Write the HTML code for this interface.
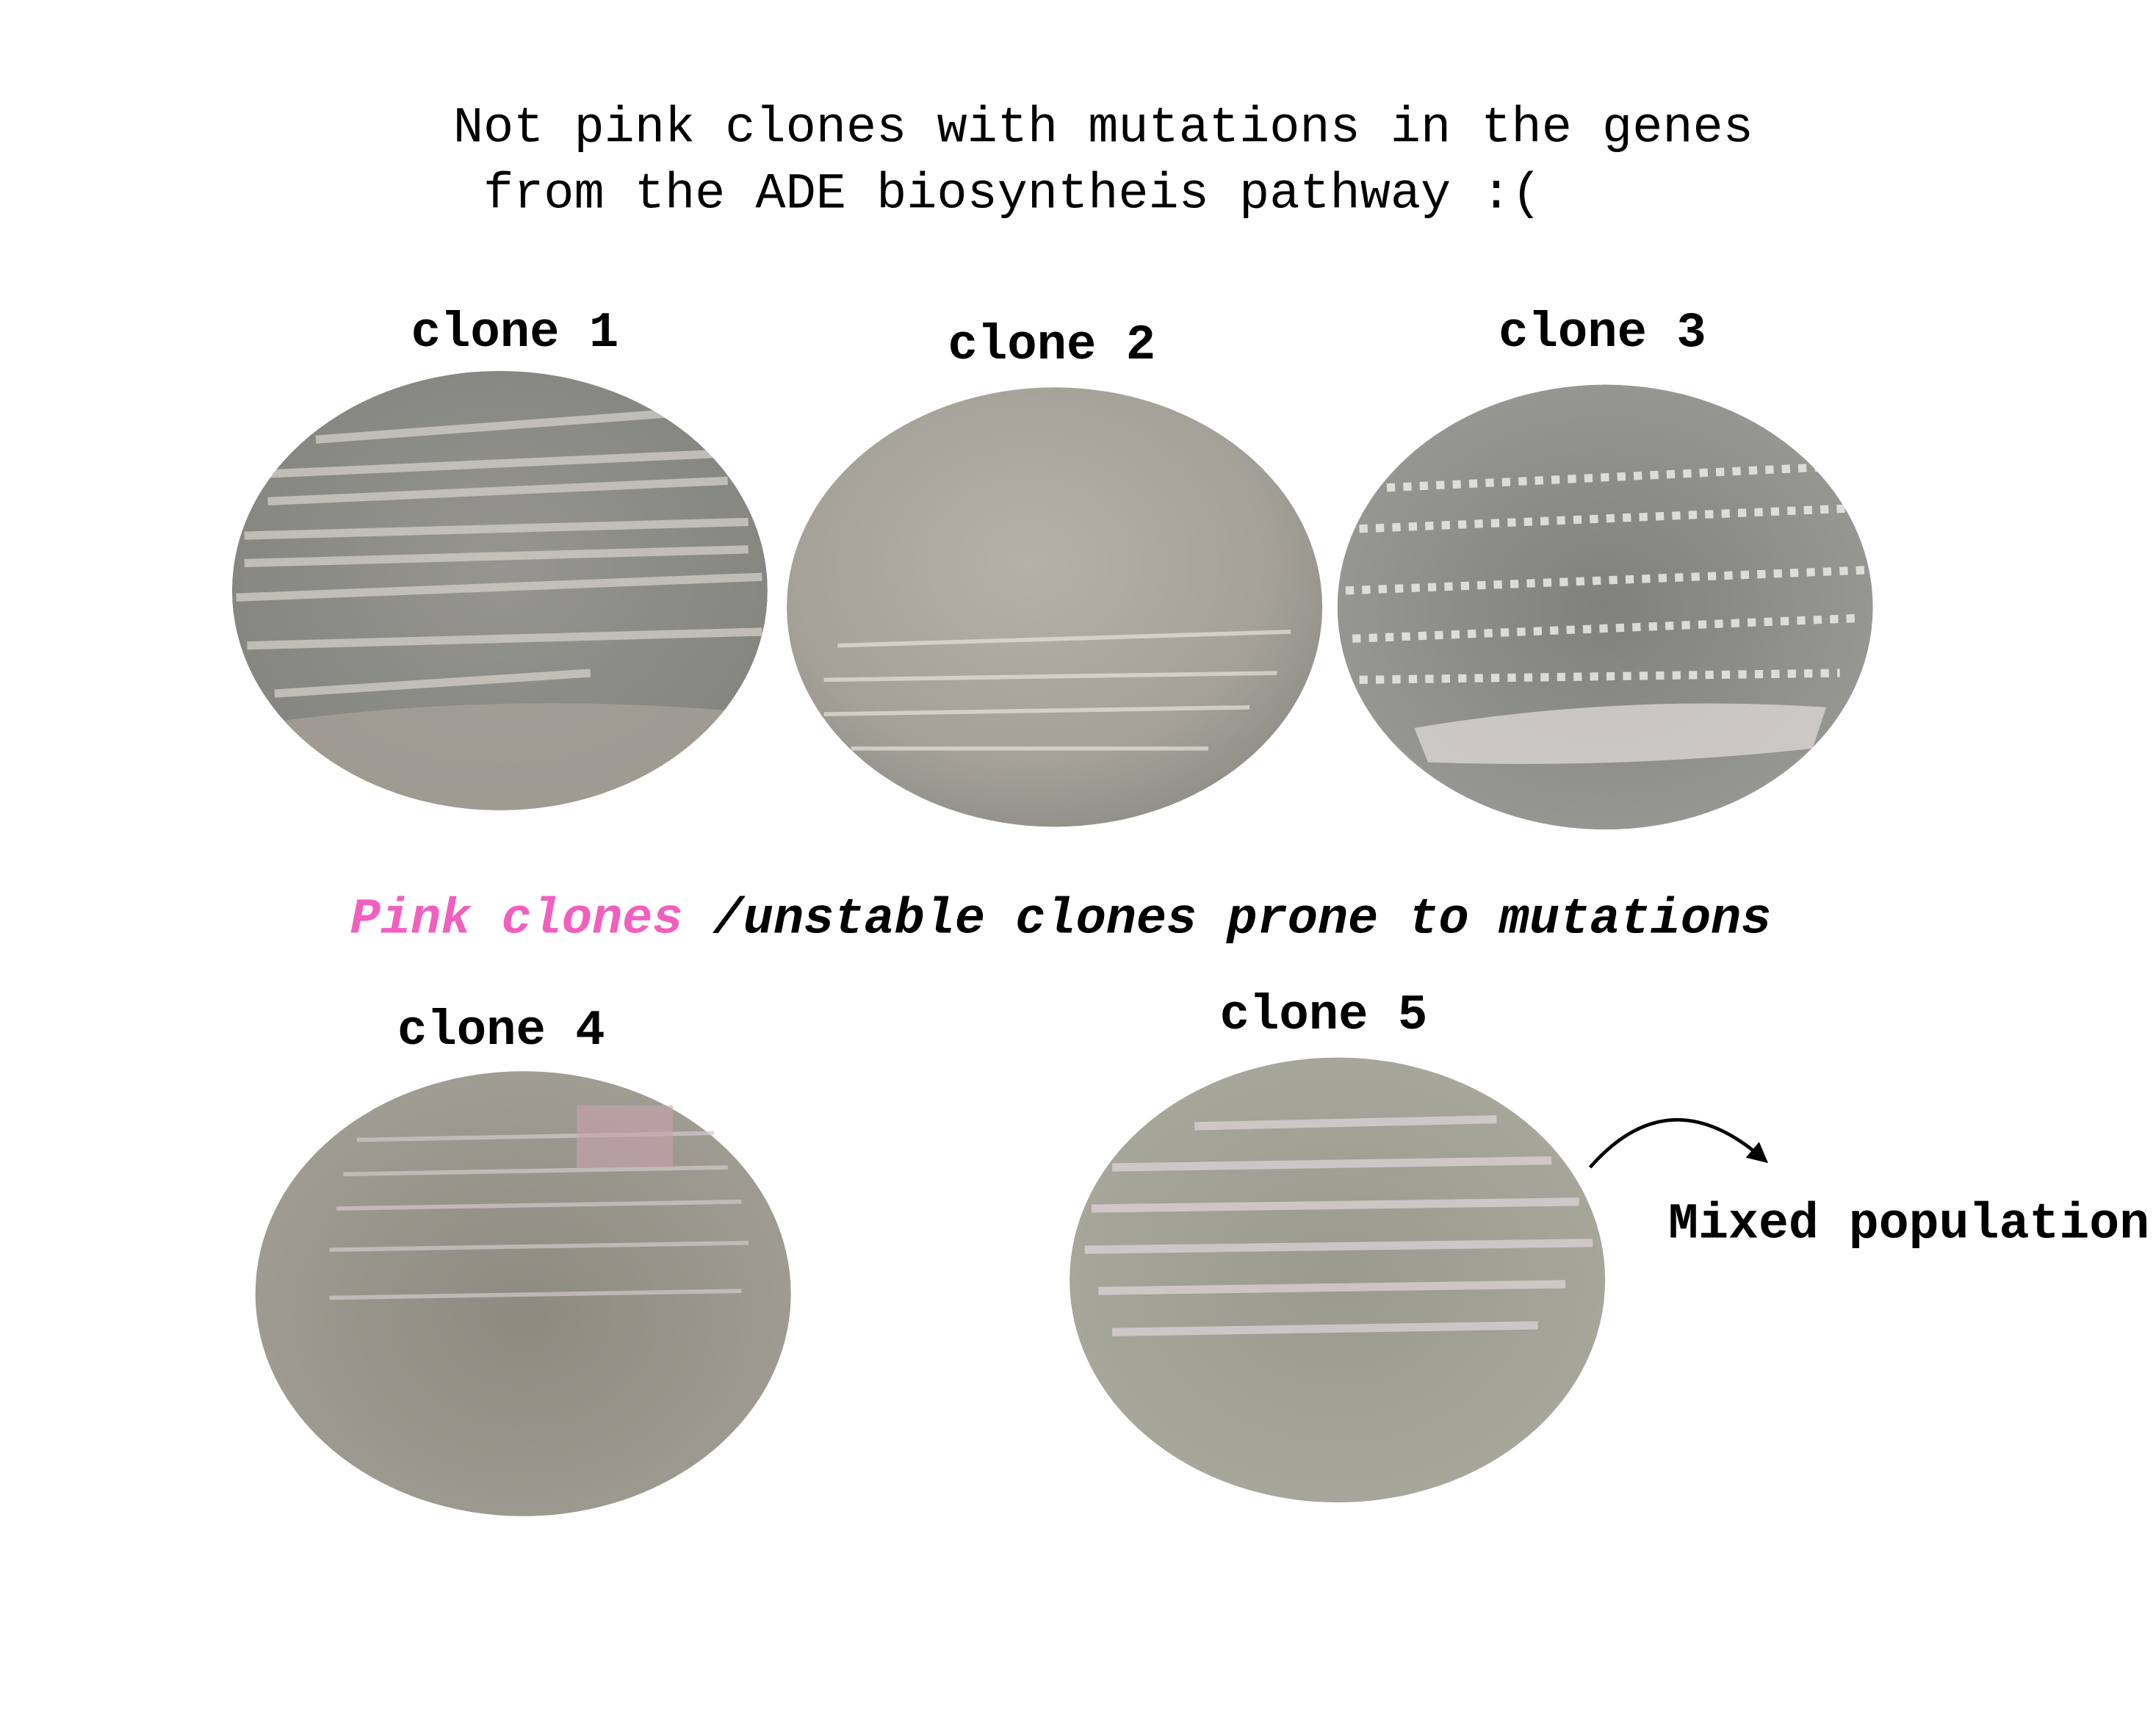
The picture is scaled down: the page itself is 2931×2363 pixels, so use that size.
<!DOCTYPE html>
<html><head><meta charset="utf-8">
<style>
html,body{margin:0;padding:0;background:#fff;}
svg{display:block;}
text{font-family:"Liberation Mono","DejaVu Sans Mono",monospace;}
</style></head>
<body>
<svg width="2931" height="2363" viewBox="0 0 1568 1264" xmlns="http://www.w3.org/2000/svg">
<defs>
  <radialGradient id="g1" cx="50%" cy="45%" r="60%">
    <stop offset="0" stop-color="#96958f"/><stop offset="1" stop-color="#83847f"/>
  </radialGradient>
  <radialGradient id="g2" cx="45%" cy="40%" r="65%">
    <stop offset="0" stop-color="#b4b2a8"/><stop offset="0.7" stop-color="#a3a198"/><stop offset="1" stop-color="#8e8d86"/>
  </radialGradient>
  <radialGradient id="g3" cx="50%" cy="50%" r="60%">
    <stop offset="0" stop-color="#80817c"/><stop offset="1" stop-color="#9a9b96"/>
  </radialGradient>
  <radialGradient id="g4" cx="50%" cy="55%" r="60%">
    <stop offset="0" stop-color="#8d8b80"/><stop offset="1" stop-color="#a19f95"/>
  </radialGradient>
  <radialGradient id="g5" cx="50%" cy="50%" r="60%">
    <stop offset="0" stop-color="#9a9a8e"/><stop offset="1" stop-color="#a8a89c"/>
  </radialGradient>
  <clipPath id="c1"><ellipse cx="364" cy="430" rx="195" ry="160"/></clipPath>
  <clipPath id="c3"><ellipse cx="1169" cy="442" rx="195" ry="162"/></clipPath>
  <marker id="ah" viewBox="0 0 10 10" refX="5" refY="5" markerWidth="6" markerHeight="6" orient="auto">
    <path d="M0,0 L10,5 L0,10 z" fill="#000"/>
  </marker>
</defs>

<text x="330" y="103" font-size="36.7">Not pink clones with mutations in the genes</text>
<text x="352" y="151" font-size="36.7">from the ADE biosyntheis pathway :(</text>

<text x="375" y="252" font-size="36" font-weight="bold" text-anchor="middle">clone 1</text>
<text x="766" y="261" font-size="36" font-weight="bold" text-anchor="middle">clone 2</text>
<text x="1167" y="252" font-size="36" font-weight="bold" text-anchor="middle">clone 3</text>

<g clip-path="url(#c1)">
  <ellipse cx="364" cy="430" rx="195" ry="160" fill="url(#g1)"/>
  <g stroke="#d8d4cc" stroke-width="6" opacity="0.7">
    <line x1="230" y1="320" x2="500" y2="300"/><line x1="195" y1="345" x2="530" y2="330"/>
    <line x1="195" y1="365" x2="530" y2="350"/><line x1="178" y1="390" x2="545" y2="380"/>
    <line x1="178" y1="410" x2="545" y2="400"/><line x1="172" y1="435" x2="555" y2="420"/>
    <line x1="180" y1="470" x2="555" y2="460"/><line x1="200" y1="505" x2="430" y2="490"/>
  </g>
  <path d="M170,530 Q360,500 560,520 L560,600 L170,600z" fill="#a9a49b" opacity="0.7"/>
</g>
<g>
  <ellipse cx="768" cy="442" rx="195" ry="160" fill="url(#g2)"/>
  <g stroke="#e6e3da" stroke-width="3" opacity="0.7">
    <line x1="610" y1="470" x2="940" y2="460"/><line x1="600" y1="495" x2="930" y2="490"/>
    <line x1="600" y1="520" x2="910" y2="515"/><line x1="620" y1="545" x2="880" y2="545"/>
  </g>
</g>
<g clip-path="url(#c3)">
  <ellipse cx="1169" cy="442" rx="195" ry="162" fill="url(#g3)"/>
  <g stroke="#eeeae6" stroke-width="6" stroke-dasharray="6 6" opacity="0.85">
    <line x1="1010" y1="355" x2="1330" y2="340"/><line x1="990" y1="385" x2="1350" y2="370"/>
    <line x1="980" y1="430" x2="1360" y2="415"/><line x1="985" y1="465" x2="1355" y2="450"/>
    <line x1="990" y1="495" x2="1340" y2="490"/>
  </g>
  <path d="M1030,530 Q1180,505 1330,515 L1320,545 Q1180,560 1040,555z" fill="#d9d6d2" opacity="0.8"/>
</g>

<text x="255" y="679" font-size="36.7" font-weight="bold" font-style="italic"><tspan fill="#f25fbf">Pink clones</tspan> /unstable clones prone to mutations</text>

<text x="365" y="760" font-size="36" font-weight="bold" text-anchor="middle">clone 4</text>
<text x="964" y="749" font-size="36" font-weight="bold" text-anchor="middle">clone 5</text>

<g>
  <ellipse cx="381" cy="942" rx="195" ry="162" fill="url(#g4)"/>
  <g stroke="#d6c8cc" stroke-width="3" opacity="0.7">
    <line x1="260" y1="830" x2="520" y2="825"/><line x1="250" y1="855" x2="530" y2="850"/>
    <line x1="245" y1="880" x2="540" y2="875"/><line x1="240" y1="910" x2="545" y2="905"/>
    <line x1="240" y1="945" x2="540" y2="940"/>
  </g>
  <rect x="420" y="805" width="70" height="45" fill="#c9a3ad" opacity="0.6"/>
</g>
<g>
  <ellipse cx="974" cy="932" rx="195" ry="162" fill="url(#g5)"/>
  <g stroke="#e2d6dc" stroke-width="6" opacity="0.7">
    <line x1="870" y1="820" x2="1090" y2="815"/><line x1="810" y1="850" x2="1130" y2="845"/>
    <line x1="795" y1="880" x2="1150" y2="875"/><line x1="790" y1="910" x2="1160" y2="905"/>
    <line x1="800" y1="940" x2="1140" y2="935"/><line x1="810" y1="970" x2="1120" y2="965"/>
  </g>
</g>

<path d="M1158,850 Q1215,785 1282,842" fill="none" stroke="#000" stroke-width="2.5" marker-end="url(#ah)"/>
<text x="1215" y="901" font-size="36.5" font-weight="bold">Mixed population</text>
</svg>
</body></html>
